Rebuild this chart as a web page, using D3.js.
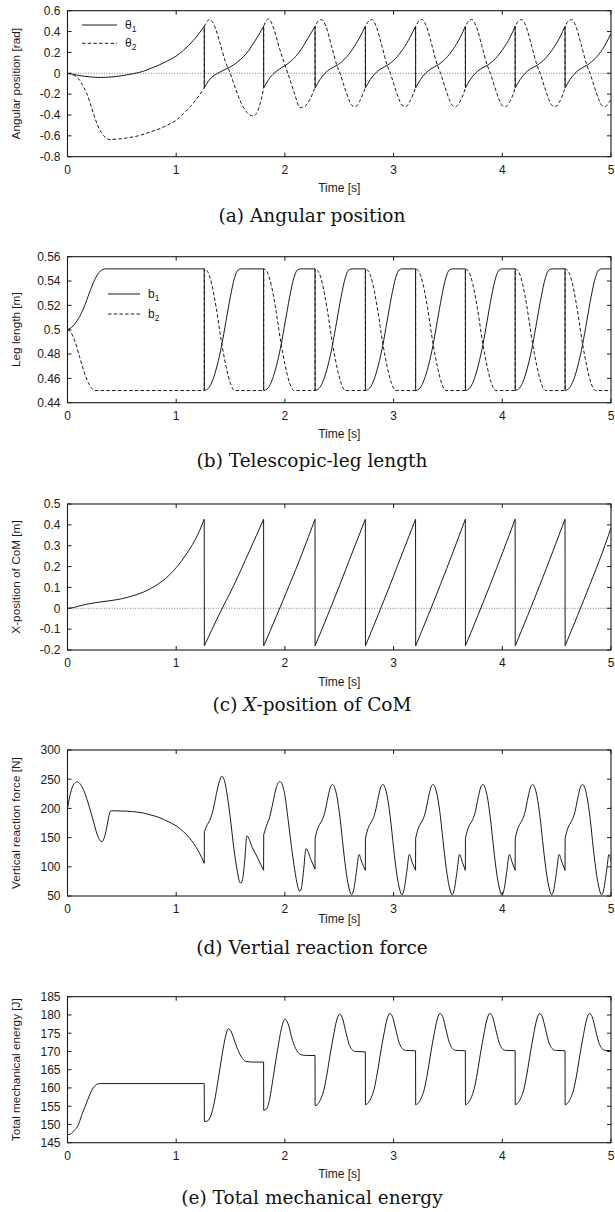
<!DOCTYPE html>
<html>
<head>
<meta charset="utf-8">
<script src="https://cdn.jsdelivr.net/npm/d3@7"></script>
<style>
  body { margin: 0; background: #fff; }
  svg text { font-family: "Liberation Sans", Arial, sans-serif; fill: #1a1a1a; }
  svg text.caption { font-family: "DejaVu Serif", serif; font-size: 18.5px; fill: #111; }
</style>
</head>
<body>
<svg id="chart" width="615" height="1212"></svg>
<script>
/**
 * DATA: [time (s), value]
 * a jump is two points 0.001 s apart
 * */
const timeTicks = [0, 1, 2, 3, 4, 5];
const angleTicks = [-0.8, -0.6, -0.4, -0.2, 0, 0.2, 0.4, 0.6];
const legTicks = [0.44, 0.46, 0.48, 0.5, 0.52, 0.54, 0.56];
const comTicks = [-0.2, -0.1, 0, 0.1, 0.2, 0.3, 0.4, 0.5];
const forceTicks = [50, 100, 150, 200, 250, 300];
const energyTicks = [145, 150, 155, 160, 165, 170, 175, 180, 185];

const theta1 = [
  [0,0],[0.05,-0.01],[0.1,-0.02],[0.2,-0.034],[0.3,-0.04],[0.4,-0.036],[0.5,-0.024],[0.6,-0.005],[0.7,0.02],[0.76,0.045],[0.84,0.078],[0.914,0.115],[1.0,0.165],[1.067,0.22],[1.16,0.317],[1.258,0.45],
  [1.259,-0.14],[1.3,-0.07],[1.35,-0.02],[1.405,0.013],[1.466,0.045],[1.528,0.08],[1.589,0.13],[1.65,0.195],[1.712,0.29],[1.76,0.37],[1.804,0.45],
  [1.805,-0.14],[1.85,-0.06],[1.9,0.0],[1.95,0.04],[2.01,0.08],[2.08,0.14],[2.15,0.23],[2.22,0.35],[2.277,0.45],
  [2.278,-0.14],[2.323,-0.06],[2.369,0.0],[2.415,0.04],[2.484,0.08],[2.553,0.14],[2.622,0.23],[2.691,0.35],[2.74,0.45],
  [2.741,-0.14],[2.786,-0.06],[2.832,0.0],[2.878,0.04],[2.947,0.08],[3.016,0.14],[3.085,0.23],[3.154,0.35],[3.202,0.45],
  [3.203,-0.14],[3.248,-0.06],[3.294,0.0],[3.34,0.04],[3.409,0.08],[3.478,0.14],[3.547,0.23],[3.616,0.35],[3.66,0.45],
  [3.661,-0.14],[3.706,-0.06],[3.752,0.0],[3.798,0.04],[3.867,0.08],[3.936,0.14],[4.005,0.23],[4.074,0.35],[4.118,0.45],
  [4.119,-0.14],[4.164,-0.06],[4.21,0.0],[4.256,0.04],[4.325,0.08],[4.394,0.14],[4.463,0.23],[4.532,0.35],[4.577,0.45],
  [4.578,-0.14],[4.623,-0.06],[4.669,0.0],[4.715,0.04],[4.784,0.08],[4.853,0.14],[4.922,0.23],[5.0,0.38]
];
const theta2 = [
  [0,0],[0.05,-0.015],[0.1,-0.05],[0.147,-0.13],[0.18,-0.2],[0.209,-0.29],[0.24,-0.39],[0.27,-0.48],[0.3,-0.55],[0.331,-0.595],[0.36,-0.625],[0.393,-0.637],[0.45,-0.632],[0.55,-0.62],[0.65,-0.6],[0.76,-0.563],[0.84,-0.535],[0.914,-0.5],[1.0,-0.45],[1.067,-0.387],[1.13,-0.32],[1.19,-0.243],[1.258,-0.14],
  [1.259,0.45],[1.285,0.5],[1.313,0.515],[1.35,0.46],[1.4,0.3],[1.45,0.12],[1.497,0.0],[1.55,-0.16],[1.6,-0.29],[1.65,-0.375],[1.71,-0.41],[1.75,-0.36],[1.78,-0.26],[1.804,-0.14],
  [1.805,0.45],[1.825,0.5],[1.85,0.52],[1.9,0.42],[1.95,0.24],[2.0,0.08],[2.04,-0.04],[2.09,-0.2],[2.14,-0.33],[2.18,-0.32],[2.23,-0.25],[2.277,-0.14],
  [2.278,0.45],[2.307,0.5],[2.337,0.515],[2.377,0.45],[2.427,0.27],[2.477,0.08],[2.507,0],[2.547,-0.13],[2.587,-0.25],[2.617,-0.31],[2.647,-0.32],[2.687,-0.27],[2.717,-0.2],[2.74,-0.14],
  [2.741,0.45],[2.77,0.5],[2.8,0.515],[2.84,0.45],[2.89,0.27],[2.94,0.08],[2.97,0],[3.01,-0.13],[3.05,-0.25],[3.08,-0.31],[3.11,-0.32],[3.15,-0.27],[3.18,-0.2],[3.202,-0.14],
  [3.203,0.45],[3.232,0.5],[3.262,0.515],[3.302,0.45],[3.352,0.27],[3.402,0.08],[3.432,0],[3.472,-0.13],[3.512,-0.25],[3.542,-0.31],[3.572,-0.32],[3.612,-0.27],[3.642,-0.2],[3.66,-0.14],
  [3.661,0.45],[3.69,0.5],[3.72,0.515],[3.76,0.45],[3.81,0.27],[3.86,0.08],[3.89,0],[3.93,-0.13],[3.97,-0.25],[4.0,-0.31],[4.03,-0.32],[4.07,-0.27],[4.1,-0.2],[4.118,-0.14],
  [4.119,0.45],[4.148,0.5],[4.178,0.515],[4.218,0.45],[4.268,0.27],[4.318,0.08],[4.348,0],[4.388,-0.13],[4.428,-0.25],[4.458,-0.31],[4.488,-0.32],[4.528,-0.27],[4.558,-0.2],[4.577,-0.14],
  [4.578,0.45],[4.607,0.5],[4.637,0.515],[4.677,0.45],[4.727,0.27],[4.777,0.08],[4.807,0],[4.847,-0.13],[4.887,-0.25],[4.917,-0.31],[4.947,-0.32],[4.987,-0.27],[5.0,-0.25]
];

const b1 = [
  [0,0.5],[0.05,0.503],[0.1,0.509],[0.15,0.518],[0.2,0.53],[0.25,0.541],[0.3,0.548],[0.35,0.55],[1.258,0.55],
  [1.259,0.45],[1.298,0.452],[1.338,0.459],[1.378,0.471],[1.418,0.487],[1.458,0.507],[1.498,0.527],[1.538,0.543],[1.568,0.549],[1.598,0.55],[1.804,0.55],
  [1.805,0.45],[1.844,0.452],[1.884,0.459],[1.924,0.471],[1.964,0.487],[2.004,0.507],[2.044,0.527],[2.084,0.543],[2.114,0.549],[2.144,0.55],[2.277,0.55],
  [2.278,0.45],[2.317,0.452],[2.357,0.459],[2.397,0.471],[2.437,0.487],[2.477,0.507],[2.517,0.527],[2.557,0.543],[2.587,0.549],[2.617,0.55],[2.74,0.55],
  [2.741,0.45],[2.78,0.452],[2.82,0.459],[2.86,0.471],[2.9,0.487],[2.94,0.507],[2.98,0.527],[3.02,0.543],[3.05,0.549],[3.08,0.55],[3.202,0.55],
  [3.203,0.45],[3.242,0.452],[3.282,0.459],[3.322,0.471],[3.362,0.487],[3.402,0.507],[3.442,0.527],[3.482,0.543],[3.512,0.549],[3.542,0.55],[3.66,0.55],
  [3.661,0.45],[3.7,0.452],[3.74,0.459],[3.78,0.471],[3.82,0.487],[3.86,0.507],[3.9,0.527],[3.94,0.543],[3.97,0.549],[4.0,0.55],[4.118,0.55],
  [4.119,0.45],[4.158,0.452],[4.198,0.459],[4.238,0.471],[4.278,0.487],[4.318,0.507],[4.358,0.527],[4.398,0.543],[4.428,0.549],[4.458,0.55],[4.577,0.55],
  [4.578,0.45],[4.617,0.452],[4.657,0.459],[4.697,0.471],[4.737,0.487],[4.777,0.507],[4.817,0.527],[4.857,0.543],[4.887,0.549],[4.917,0.55],[5.0,0.55]
];
const b2 = [
  [0,0.5],[0.03,0.498],[0.07,0.49],[0.11,0.478],[0.15,0.466],[0.2,0.455],[0.25,0.45],[1.258,0.45],
  [1.259,0.55],[1.288,0.548],[1.328,0.537],[1.368,0.518],[1.418,0.489],[1.458,0.47],[1.498,0.456],[1.538,0.45],[1.804,0.45],
  [1.805,0.55],[1.834,0.548],[1.874,0.537],[1.914,0.518],[1.964,0.489],[2.004,0.47],[2.044,0.456],[2.084,0.45],[2.277,0.45],
  [2.278,0.55],[2.307,0.548],[2.347,0.537],[2.387,0.518],[2.437,0.489],[2.477,0.47],[2.517,0.456],[2.557,0.45],[2.74,0.45],
  [2.741,0.55],[2.77,0.548],[2.81,0.537],[2.85,0.518],[2.9,0.489],[2.94,0.47],[2.98,0.456],[3.02,0.45],[3.202,0.45],
  [3.203,0.55],[3.232,0.548],[3.272,0.537],[3.312,0.518],[3.362,0.489],[3.402,0.47],[3.442,0.456],[3.482,0.45],[3.66,0.45],
  [3.661,0.55],[3.69,0.548],[3.73,0.537],[3.77,0.518],[3.82,0.489],[3.86,0.47],[3.9,0.456],[3.94,0.45],[4.118,0.45],
  [4.119,0.55],[4.148,0.548],[4.188,0.537],[4.228,0.518],[4.278,0.489],[4.318,0.47],[4.358,0.456],[4.398,0.45],[4.577,0.45],
  [4.578,0.55],[4.607,0.548],[4.647,0.537],[4.687,0.518],[4.737,0.489],[4.777,0.47],[4.817,0.456],[4.857,0.45],[5.0,0.45]
];

const comX = [
  [0,0],[0.05,0.003],[0.1,0.01],[0.2,0.022],[0.3,0.03],[0.4,0.037],[0.5,0.046],[0.6,0.06],[0.7,0.078],[0.8,0.105],[0.9,0.142],[1.0,0.195],[1.1,0.265],[1.2,0.355],[1.258,0.427],
  [1.259,-0.18],[1.39,-0.035],[1.53,0.11],[1.67,0.27],[1.804,0.427],
  [1.805,-0.18],[1.92,-0.04],[2.04,0.11],[2.16,0.265],[2.277,0.427],
  [2.278,-0.18],[2.392,-0.035],[2.507,0.115],[2.622,0.27],[2.74,0.427],
  [2.741,-0.18],[2.855,-0.035],[2.97,0.115],[3.085,0.27],[3.202,0.427],
  [3.203,-0.18],[3.317,-0.035],[3.432,0.115],[3.547,0.27],[3.66,0.427],
  [3.661,-0.18],[3.775,-0.035],[3.89,0.115],[4.005,0.27],[4.118,0.427],
  [4.119,-0.18],[4.233,-0.035],[4.348,0.115],[4.463,0.27],[4.577,0.427],
  [4.578,-0.18],[4.692,-0.035],[4.807,0.115],[4.922,0.27],[5.0,0.385]
];

const force = [
  [0,200],[0.03,228],[0.06,242],[0.09,245.5],[0.12,241],[0.16,226],[0.2,203],[0.24,177],[0.27,157],[0.3,145],[0.316,143],[0.335,148],[0.36,166],[0.385,190],[0.4,196],[0.5,195.5],[0.6,194.5],[0.7,192],[0.76,189],[0.85,184],[0.914,178.4],[1.0,170],[1.067,160],[1.12,150],[1.16,140],[1.21,125],[1.258,106],
  [1.259,160],[1.28,170],[1.31,180],[1.34,198],[1.37,225],[1.4,248],[1.42,255],[1.44,250],[1.47,222],[1.5,180],[1.53,132],[1.56,95],[1.58,76],[1.595,72],[1.61,78],[1.63,110],[1.65,153],[1.7,133],[1.75,115],[1.804,94],
  [1.805,155],[1.83,170],[1.86,185],[1.89,210],[1.92,235],[1.95,246],[1.97,243],[2.0,222],[2.03,180],[2.06,135],[2.09,95],[2.12,65],[2.135,58],[2.15,62],[2.17,90],[2.195,131],[2.24,112],[2.277,96],
  [2.278,149],[2.297,163],[2.317,172],[2.337,178],[2.367,193],[2.397,220],[2.422,238],[2.439,241],[2.457,236],[2.477,222],[2.507,184],[2.537,132],[2.567,87],[2.592,62],[2.614,52],[2.632,60],[2.657,90],[2.682,121],[2.707,108],[2.74,94],
  [2.741,149],[2.76,163],[2.78,172],[2.8,178],[2.83,193],[2.86,220],[2.885,238],[2.902,241],[2.92,236],[2.94,222],[2.97,184],[3.0,132],[3.03,87],[3.055,62],[3.077,52],[3.095,60],[3.12,90],[3.145,121],[3.17,108],[3.202,94],
  [3.203,149],[3.222,163],[3.242,172],[3.262,178],[3.292,193],[3.322,220],[3.347,238],[3.364,241],[3.382,236],[3.402,222],[3.432,184],[3.462,132],[3.492,87],[3.517,62],[3.539,52],[3.557,60],[3.582,90],[3.607,121],[3.632,108],[3.66,94],
  [3.661,149],[3.68,163],[3.7,172],[3.72,178],[3.75,193],[3.78,220],[3.805,238],[3.822,241],[3.84,236],[3.86,222],[3.89,184],[3.92,132],[3.95,87],[3.975,62],[3.997,52],[4.015,60],[4.04,90],[4.065,121],[4.09,108],[4.118,94],
  [4.119,149],[4.138,163],[4.158,172],[4.178,178],[4.208,193],[4.238,220],[4.263,238],[4.28,241],[4.298,236],[4.318,222],[4.348,184],[4.378,132],[4.408,87],[4.433,62],[4.455,52],[4.473,60],[4.498,90],[4.523,121],[4.548,108],[4.577,94],
  [4.578,149],[4.597,163],[4.617,172],[4.637,178],[4.667,193],[4.697,220],[4.722,238],[4.739,241],[4.757,236],[4.777,222],[4.807,184],[4.837,132],[4.867,87],[4.892,62],[4.914,52],[4.932,60],[4.957,90],[4.982,121],[5.0,110]
];

const energy = [
  [0,147.2],[0.03,147.4],[0.06,148.3],[0.1,149.9],[0.13,152.5],[0.163,155],[0.2,157.8],[0.224,159.4],[0.25,160.5],[0.27,161],[0.3,161.2],[1.258,161.2],
  [1.259,150.8],[1.29,151],[1.32,152.5],[1.35,156],[1.39,163],[1.43,170.5],[1.46,174.8],[1.48,176.2],[1.5,175.8],[1.53,173.5],[1.56,171],[1.6,168.5],[1.64,167.3],[1.7,167.1],[1.804,167.1],
  [1.805,153.9],[1.83,154.2],[1.86,157],[1.89,162.5],[1.93,170],[1.97,176.5],[2.0,178.9],[2.03,177.5],[2.07,173],[2.11,170.2],[2.15,169.1],[2.2,168.9],[2.277,168.9],
  [2.278,155.1],[2.297,155.4],[2.327,156.8],[2.357,159.3],[2.387,163.8],[2.417,169.3],[2.447,174.3],[2.477,178.6],[2.502,180.2],[2.527,179.3],[2.557,175.8],[2.587,172.3],[2.617,170.5],[2.647,170],[2.74,169.9],
  [2.741,155.4],[2.76,155.7],[2.79,157.1],[2.82,159.6],[2.85,164.1],[2.88,169.6],[2.91,174.6],[2.94,178.9],[2.965,180.4],[2.99,179.5],[3.02,176],[3.05,172.5],[3.08,170.8],[3.11,170.3],[3.202,170.2],
  [3.203,155.4],[3.222,155.7],[3.252,157.1],[3.282,159.6],[3.312,164.1],[3.342,169.6],[3.372,174.6],[3.402,178.9],[3.427,180.4],[3.452,179.5],[3.482,176],[3.512,172.5],[3.542,170.8],[3.572,170.3],[3.66,170.2],
  [3.661,155.4],[3.68,155.7],[3.71,157.1],[3.74,159.6],[3.77,164.1],[3.8,169.6],[3.83,174.6],[3.86,178.9],[3.885,180.4],[3.91,179.5],[3.94,176],[3.97,172.5],[4.0,170.8],[4.03,170.3],[4.118,170.2],
  [4.119,155.4],[4.138,155.7],[4.168,157.1],[4.198,159.6],[4.228,164.1],[4.258,169.6],[4.288,174.6],[4.318,178.9],[4.343,180.4],[4.368,179.5],[4.398,176],[4.428,172.5],[4.458,170.8],[4.488,170.3],[4.577,170.2],
  [4.578,155.4],[4.597,155.7],[4.627,157.1],[4.657,159.6],[4.687,164.1],[4.717,169.6],[4.747,174.6],[4.777,178.9],[4.802,180.4],[4.827,179.5],[4.857,176],[4.887,172.5],[4.917,170.8],[4.947,170.3],[5.0,170.2]
];

/**
 * LAYOUT
 * */
const left = 67.5, right = 611, plotH = 146, tickLen = 4;
const DASH = "3.5,2.2";

const panels = [
  { top: 10.7, domain: [-0.8, 0.6], ticks: angleTicks, ylabel: "Angular position [rad]",
    series: [{ data: theta1, dash: null, name: "θ", sub: "1" }, { data: theta2, dash: DASH, name: "θ", sub: "2" }],
    legend: { x1: 82, x2: 117, tx: 125, y: 14.3, gap: 18.3 }, zero: true,
    xlabelDy: 35, captionY: 222, caption: [["(a) ", false], ["Angular position", false]] },
  { top: 256.7, domain: [0.44, 0.56], ticks: legTicks, ylabel: "Leg length [m]",
    series: [{ data: b1, dash: null, name: "b", sub: "1" }, { data: b2, dash: DASH, name: "b", sub: "2" }],
    legend: { x1: 108, x2: 140, tx: 148, y: 37.3, gap: 20 }, zero: false,
    xlabelDy: 35, captionY: 467, caption: [["(b) ", false], ["Telescopic-leg length", false]] },
  { top: 504, domain: [-0.2, 0.5], ticks: comTicks, ylabel: "X-position of CoM [m]",
    series: [{ data: comX, dash: null }], zero: true,
    xlabelDy: 35.5, captionY: 711, caption: [["(c) ", false], ["X", true], ["-position of CoM", false]] },
  { top: 750, domain: [50, 300], ticks: forceTicks, ylabel: "Vertical reaction force [N]",
    series: [{ data: force, dash: null }], zero: false,
    xlabelDy: 27, captionY: 953.5, caption: [["(d) ", false], ["Vertial reaction force", false]] },
  { top: 996.7, domain: [145, 185], ticks: energyTicks, ylabel: "Total mechanical energy [J]",
    series: [{ data: energy, dash: null }], zero: false,
    xlabelDy: 35.5, captionY: 1204, caption: [["(e) ", false], ["Total mechanical energy", false]] }
];

// break a series at its jumps so the smoothing does not round the corners
function pieces(data) {
  const out = [[data[0]]];
  for (let k = 1; k < data.length; k++) {
    if (data[k][0] - data[k - 1][0] < 0.002) out.push([]);
    out[out.length - 1].push(data[k]);
  }
  return out;
}

const svg = d3.select("#chart");
const x = d3.scaleLinear().domain([0, 5]).range([left, right]);

panels.forEach((p, i) => {
  const bottom = p.top + plotH;
  const y = d3.scaleLinear().domain(p.domain).range([bottom, p.top]);
  const g = svg.append("g");

  g.append("clipPath").attr("id", "clip" + i)
    .append("rect").attr("x", left).attr("y", p.top).attr("width", right - left).attr("height", plotH);

  if (p.zero) {
    g.append("line")
      .attr("x1", left).attr("x2", right)
      .attr("y1", y(0)).attr("y2", y(0))
      .attr("stroke", "#555").attr("stroke-width", 0.8).attr("stroke-dasharray", "1,1.6");
  }

  const line = d3.line()
    .x(d => x(d[0]))
    .y(d => y(d[1]))
    .curve(d3.curveMonotoneX);

  // smooth pieces joined by straight vertical jumps, one path per series
  const pathOf = data => pieces(data)
    .map((seg, k) => (k ? "L" : "M") + line(seg).slice(1))
    .join("");

  // dashed series first, solid on top
  p.series.slice().reverse().forEach(s => {
    g.append("path")
      .attr("clip-path", `url(#clip${i})`)
      .attr("d", pathOf(s.data))
      .attr("fill", "none")
      .attr("stroke", "#1a1a1a")
      .attr("stroke-width", 1)
      .attr("stroke-linejoin", "miter")
      .attr("stroke-dasharray", s.dash);
  });

  // frame
  g.append("rect")
    .attr("x", left).attr("y", p.top).attr("width", right - left).attr("height", plotH)
    .attr("fill", "none").attr("stroke", "#1a1a1a").attr("stroke-width", 1.1);

  // x ticks, inward on bottom and top
  g.selectAll(".xt").data(timeTicks).join("path")
    .attr("d", d => `M${x(d)},${bottom}v${-tickLen}M${x(d)},${p.top}v${tickLen}`)
    .attr("stroke", "#1a1a1a").attr("stroke-width", 1);
  g.selectAll(".xl").data(timeTicks).join("text")
    .attr("x", d => x(d)).attr("y", bottom + 17.3)
    .attr("text-anchor", "middle").attr("font-size", 12)
    .text(d => d);

  // y ticks, inward on left and right
  g.selectAll(".yt").data(p.ticks).join("path")
    .attr("d", d => `M${left},${y(d)}h${tickLen}M${right},${y(d)}h${-tickLen}`)
    .attr("stroke", "#1a1a1a").attr("stroke-width", 1);
  g.selectAll(".yl").data(p.ticks).join("text")
    .attr("x", left - 7).attr("y", d => y(d)).attr("dy", "0.36em")
    .attr("text-anchor", "end").attr("font-size", 12)
    .text(d => d);

  // axis titles
  g.append("text")
    .attr("x", (left + right) / 2).attr("y", bottom + p.xlabelDy)
    .attr("text-anchor", "middle").attr("font-size", 12)
    .text("Time [s]");
  g.append("text")
    .attr("transform", `translate(19.5,${p.top + plotH / 2}) rotate(-90)`)
    .attr("text-anchor", "middle").attr("font-size", 11.8)
    .text(p.ylabel);

  // legend
  if (p.legend) {
    p.series.forEach((s, k) => {
      const ly = p.top + p.legend.y + k * p.legend.gap;
      g.append("line")
        .attr("x1", p.legend.x1).attr("x2", p.legend.x2).attr("y1", ly).attr("y2", ly)
        .attr("stroke", "#1a1a1a").attr("stroke-width", 1).attr("stroke-dasharray", s.dash);
      const t = g.append("text").attr("x", p.legend.tx).attr("y", ly + 4).attr("font-size", 12);
      t.append("tspan").text(s.name);
      t.append("tspan").attr("font-size", 8.5).attr("dy", 3).text(s.sub);
    });
  }

  // caption
  const c = svg.append("text").attr("class", "caption")
    .attr("x", 312).attr("y", p.captionY).attr("text-anchor", "middle")
    .attr("xml:space", "preserve");
  p.caption.forEach(([txt, it]) => {
    c.append("tspan").attr("font-style", it ? "italic" : null).text(txt);
  });
});
</script>
</body>
</html>
